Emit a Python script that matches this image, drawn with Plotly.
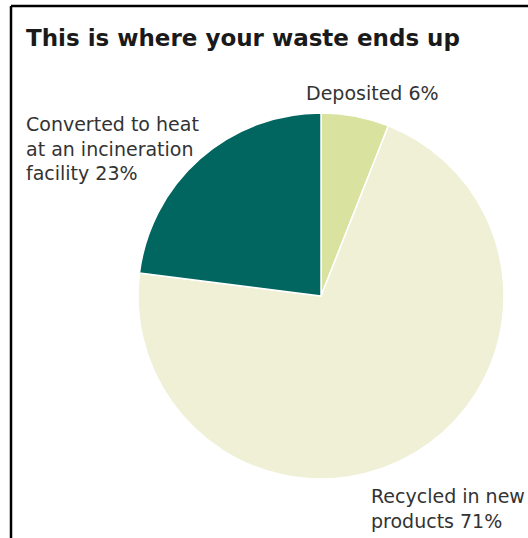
import plotly.graph_objects as go

# Waste destination shares (percent)
categories = ["Deposited", "Recycled in new products", "Converted to heat at an incineration facility"]
shares = [6, 71, 23]
slice_colors = ["#d9e29f", "#eff0d6", "#00665f"]

W, H = 528, 538

fig = go.Figure(
    go.Pie(
        labels=categories,
        values=shares,
        sort=False,
        direction="clockwise",
        rotation=0,
        marker=dict(colors=slice_colors, line=dict(color="white", width=1.5)),
        textinfo="none",
        hoverinfo="label+percent",
        showlegend=False,
        domain=dict(x=[138 / W, 504 / W], y=[1 - 479 / H, 1 - 113 / H]),
    )
)

label_font = dict(family="DejaVu Sans, Verdana, sans-serif", size=19, color="#333333")

annotations = [
    dict(text="<b>This is where your waste ends up</b>", x=24 / W, y=1 - 38 / H,
         xanchor="left", yanchor="middle",
         font=dict(family="DejaVu Sans, Verdana, sans-serif", size=23, color="#1a1a1a")),
    dict(text=f"{categories[0]} {shares[0]}%", x=304 / W, y=1 - 93 / H,
         xanchor="left", yanchor="middle", font=label_font),
    dict(text=f"Converted to heat<br>at an incineration<br>facility {shares[2]}%", x=24 / W, y=1 - 149 / H,
         xanchor="left", yanchor="middle", align="left", font=label_font),
    dict(text=f"Recycled in new<br>products {shares[1]}%", x=369 / W, y=1 - 508 / H,
         xanchor="left", yanchor="middle", align="left", font=label_font),
]
for a in annotations:
    a.update(xref="paper", yref="paper", showarrow=False)

# Frame along the top and left edges
shapes = [
    dict(type="line", xref="paper", yref="paper", x0=11 / W, y0=0, x1=11 / W, y1=1 - 6 / H,
         line=dict(color="black", width=2.5)),
    dict(type="line", xref="paper", yref="paper", x0=11 / W, y0=1 - 6 / H, x1=1, y1=1 - 6 / H,
         line=dict(color="black", width=2.5)),
]

fig.update_layout(
    width=W, height=H,
    margin=dict(l=0, r=0, t=0, b=0),
    paper_bgcolor="white", plot_bgcolor="white",
    annotations=annotations, shapes=shapes,
)

fig.write_html("out.html")
